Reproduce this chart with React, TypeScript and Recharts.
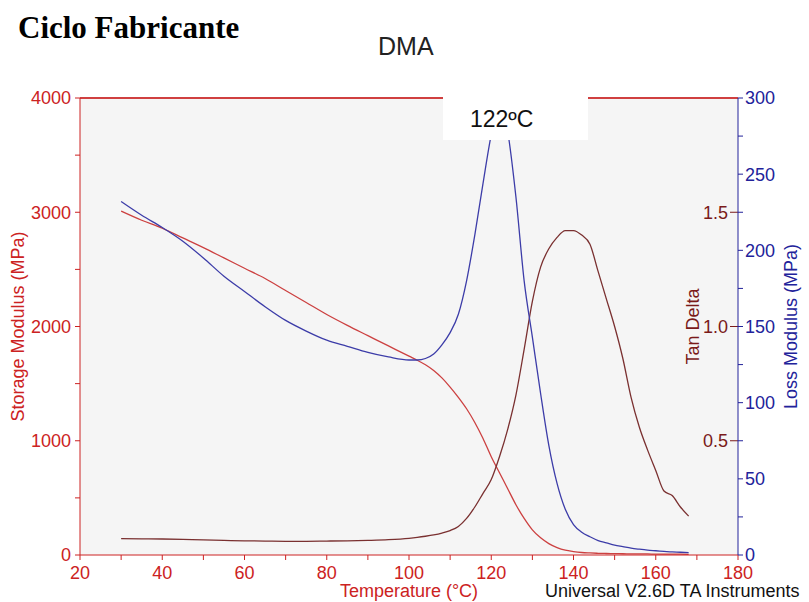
import React from "react";
import {
  LineChart,
  Line,
  XAxis,
  YAxis,
  CartesianGrid,
  ReferenceLine,
} from "recharts";

// temperature (°C) sampling shared by the three curves
const temps = [
  30, 35, 40, 45, 50, 55, 60, 65, 70, 75, 80, 85, 90, 95, 100, 102, 104, 106,
  108, 110, 112, 114, 116, 118, 120, 122, 124, 126, 128, 130, 132, 134, 136,
  138, 140, 142, 144, 146, 148, 150, 152, 154, 156, 158, 160, 162, 164, 166,
  168,
];

// storage modulus (MPa)
const storage = [
  3010, 2930, 2860, 2775, 2690, 2600, 2510, 2420, 2315, 2210, 2105, 2010, 1920,
  1830, 1740, 1705, 1665, 1615, 1550, 1470, 1380, 1280, 1160, 1020, 860, 720,
  580, 440, 320, 220, 150, 100, 65, 42, 30, 22, 18, 15, 13, 12, 11, 10, 9, 9,
  8, 8, 7, 7, 6,
];

// tan delta
const tanDelta = [
  0.072, 0.071, 0.07, 0.068, 0.066, 0.064, 0.062, 0.061, 0.06, 0.06, 0.061,
  0.062, 0.064, 0.067, 0.073, 0.077, 0.082, 0.088, 0.096, 0.107, 0.125, 0.16,
  0.21, 0.27, 0.33, 0.43, 0.55, 0.7, 0.9, 1.11, 1.26, 1.34, 1.39, 1.42, 1.42,
  1.4, 1.36, 1.24, 1.12, 1.0, 0.86, 0.69, 0.56, 0.46, 0.37, 0.28, 0.26, 0.21,
  0.17,
];

// loss modulus (MPa)
const loss = [
  232, 223, 215, 206, 195, 183, 173, 163, 154, 147, 141, 137, 133, 130, 128,
  128, 129, 132, 138, 146, 158, 180, 210, 244, 276, 298, 278, 235, 180, 143,
  106, 72, 47, 30, 20, 15, 12, 9.5, 8, 6.5, 5.5, 4.5, 3.8, 3.2, 2.8, 2.4, 2,
  1.8, 1.5,
];

const xTicks = [20, 30, 40, 50, 60, 70, 80, 90, 100, 110, 120, 130, 140, 150, 160, 170, 180];
const storageTicks = [0, 500, 1000, 1500, 2000, 2500, 3000, 3500, 4000];
const tanTicks = [0.5, 1.0, 1.5];
const lossTicks = [0, 25, 50, 75, 100, 125, 150, 175, 200, 225, 250, 275, 300];

const rows = temps.map((t, i) => ({
  t,
  storage: storage[i],
  tan: tanDelta[i],
  loss: loss[i],
}));

const RED = "#cc2222";
const BLUE = "#22229a";
const MAROON = "#7a1a1a";
const font = "'Liberation Sans', Arial, sans-serif";

export default function App() {
  return (
    <div
      style={{
        position: "absolute",
        left: 0,
        top: 0,
        width: 809,
        height: 602,
        background: "#ffffff",
        fontFamily: font,
      }}
    >
      <LineChart
        width={809}
        height={602}
        data={rows}
        margin={{ top: 98, right: 0, bottom: 0, left: 0 }}
        style={{ fontFamily: font }}
      >
        <CartesianGrid fill="#f5f5f5" stroke="none" horizontal={false} vertical={false} />
        <XAxis
          dataKey="t"
          type="number"
          domain={[20, 180]}
          ticks={xTicks}
          interval={0}
          height={47}
          stroke={RED}
          tickSize={5}
          tickMargin={6}
          tick={{ fill: RED, fontSize: 18 }}
          tickFormatter={(v) => (v % 20 === 0 ? String(v) : "")}
          label={{
            value: "Temperature (°C)",
            position: "center",
            dy: 12,
            fill: RED,
            fontSize: 18,
          }}
        />
        <YAxis
          yAxisId="storage"
          domain={[0, 4000]}
          ticks={storageTicks}
          interval={0}
          width={80}
          stroke={RED}
          tickSize={5}
          tickMargin={4}
          tick={{ fill: RED, fontSize: 18 }}
          tickFormatter={(v) => (v % 1000 === 0 ? String(v) : "")}
          label={{
            value: "Storage Modulus (MPa)",
            angle: -90,
            position: "center",
            dx: -22,
            fill: RED,
            fontSize: 18,
          }}
        />
        <YAxis
          yAxisId="tan"
          orientation="right"
          mirror
          domain={[0, 2]}
          ticks={tanTicks}
          interval={0}
          width={60}
          axisLine={false}
          stroke={MAROON}
          tickSize={8}
          tickMargin={2}
          tick={{ fill: MAROON, fontSize: 18 }}
          tickFormatter={(v) => v.toFixed(1)}
          label={{
            value: "Tan Delta",
            angle: -90,
            position: "center",
            dx: -15,
            fill: MAROON,
            fontSize: 18,
          }}
        />
        <YAxis
          yAxisId="loss"
          orientation="right"
          domain={[0, 300]}
          ticks={lossTicks}
          interval={0}
          width={71}
          stroke={BLUE}
          tickSize={5}
          tickMargin={2}
          tick={{ fill: BLUE, fontSize: 18 }}
          tickFormatter={(v) => (v % 50 === 0 ? String(v) : "")}
          label={{
            value: "Loss Modulus (MPa)",
            angle: -90,
            position: "center",
            dx: 17,
            fill: BLUE,
            fontSize: 18,
          }}
        />
        <ReferenceLine yAxisId="storage" y={4000} stroke="#d04040" strokeWidth={2} />
        <Line
          yAxisId="storage"
          dataKey="storage"
          type="monotone"
          stroke="#cc4040"
          strokeWidth={1.3}
          dot={false}
          isAnimationActive={false}
        />
        <Line
          yAxisId="tan"
          dataKey="tan"
          type="monotone"
          stroke="#7a3030"
          strokeWidth={1.3}
          dot={false}
          isAnimationActive={false}
        />
        <Line
          yAxisId="loss"
          dataKey="loss"
          type="monotone"
          stroke="#3c3ca8"
          strokeWidth={1.3}
          dot={false}
          isAnimationActive={false}
        />
      </LineChart>

      <div
        style={{
          position: "absolute",
          left: 18,
          top: 12,
          fontFamily: "'Liberation Serif', 'Times New Roman', serif",
          fontWeight: "bold",
          fontSize: 31,
          lineHeight: 1,
          color: "#000",
          whiteSpace: "nowrap",
        }}
      >
        Ciclo Fabricante
      </div>
      <div
        style={{
          position: "absolute",
          left: 378,
          top: 34,
          fontSize: 25,
          lineHeight: 1,
          color: "#222",
        }}
      >
        DMA
      </div>
      <div
        style={{
          position: "absolute",
          left: 443,
          top: 88,
          width: 145,
          height: 52,
          background: "#ffffff",
        }}
      >
        <div
          style={{
            position: "absolute",
            left: 27,
            top: 20,
            fontSize: 23,
            lineHeight: 1,
            color: "#111",
          }}
        >
          122ºC
        </div>
      </div>
      <div
        style={{
          position: "absolute",
          left: 545,
          top: 582,
          fontSize: 18,
          lineHeight: 1,
          color: "#111",
          whiteSpace: "nowrap",
        }}
      >
        Universal V2.6D TA Instruments
      </div>
    </div>
  );
}
